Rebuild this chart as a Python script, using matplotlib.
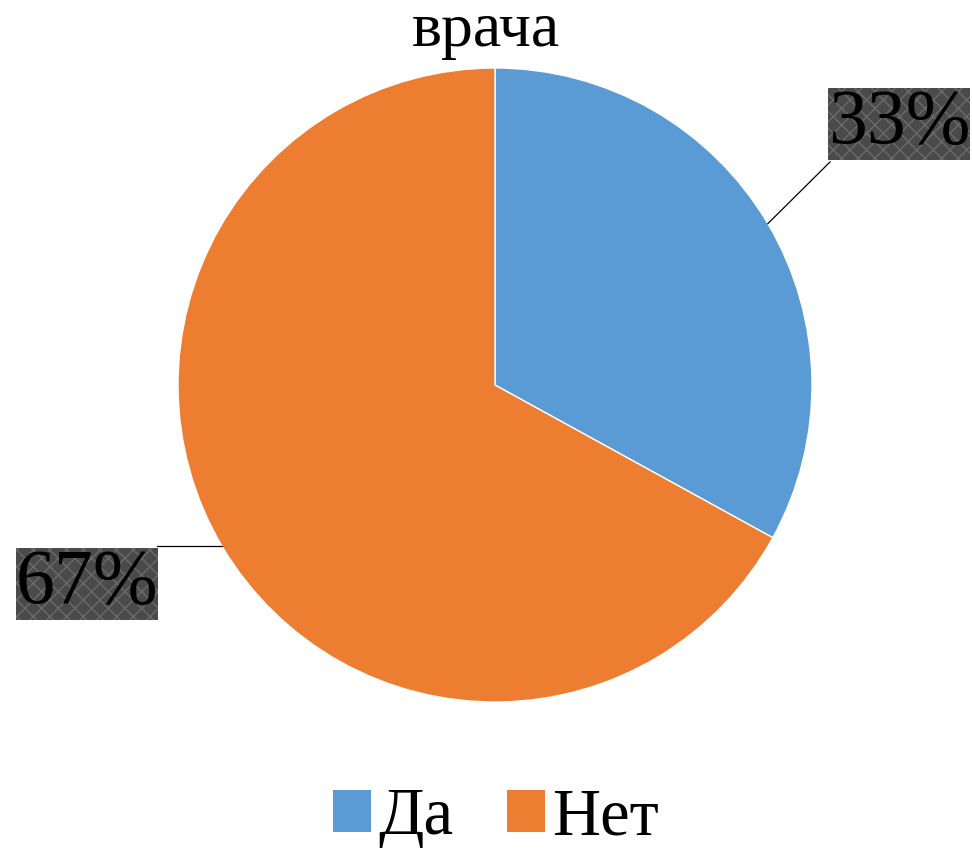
import numpy as np
import matplotlib.pyplot as plt
from matplotlib.patches import Patch

plt.rcParams['font.family'] = ['Liberation Serif', 'DejaVu Serif']
plt.rcParams['hatch.linewidth'] = 1.0

title = "врача"
categories = ["Да", "Нет"]
shares = [33, 67]
colors = ["#5B9BD5", "#ED7D31"]

W, H = 972, 850
fig = plt.figure(figsize=(W / 100, H / 100), dpi=100)
ax = fig.add_axes([0, 0, 1, 1])

cx, cy, r = 495, H - 385, 317
wedges, _ = ax.pie(shares, colors=colors, startangle=90, counterclock=False,
                   center=(cx, cy), radius=r, frame=True,
                   wedgeprops=dict(edgecolor='white', linewidth=1))
ax.set_xlim(0, W)
ax.set_ylim(0, H)
ax.set_aspect('equal')
ax.axis('off')

# data labels with leader lines
label_pos = [(899, H - 124), (87, H - 584)]
line_end_x = [830, 157]
for w, val, pos, lx in zip(wedges, shares, label_pos, line_end_x):
    ang = np.deg2rad((w.theta1 + w.theta2) / 2)
    ex, ey = cx + r * np.cos(ang), cy + r * np.sin(ang)
    ly = H - 162 if np.cos(ang) > 0 else ey
    ax.plot([ex, lx], [ey, ly], color='black', lw=0.9)
    ax.text(pos[0], pos[1], f"{val}%", fontsize=56, ha='center', va='center',
            bbox=dict(boxstyle='square,pad=0.0', facecolor='#4a4a4a',
                      edgecolor='#6a6a6a', hatch='xx', linewidth=0))

fig.text(0.5, 1 - 46 / H, title, fontsize=46, ha='center', va='baseline')

handles = [Patch(facecolor=c, edgecolor='none') for c in colors]
fig.legend(handles, categories, loc='center', bbox_to_anchor=(0.51, 1 - 818 / H),
           ncol=2, frameon=False, fontsize=48, handlelength=0.58,
           handleheight=0.58, handletextpad=0.1, columnspacing=0.8)

fig.savefig('out.png', dpi=100)
